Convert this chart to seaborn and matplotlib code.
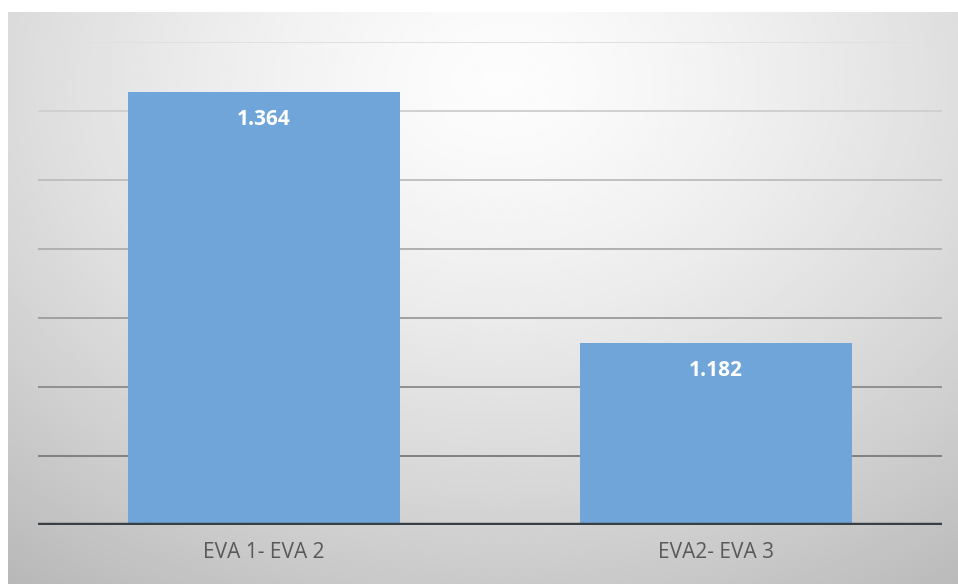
import numpy as np
import pandas as pd
import matplotlib
matplotlib.use("Agg")
import matplotlib.pyplot as plt
import seaborn as sns

categories = ["EVA 1- EVA 2", "EVA2- EVA 3"]
values = [1.364, 1.182]
labels = ["1.364", "1.182"]
y_min, y_max, y_step = 1.05, 1.40, 0.05

df = pd.DataFrame({"pair": categories, "value": values})

sns.set_theme(style="white")
plt.rcParams["font.family"] = ["Open Sans", "DejaVu Sans"]

fig = plt.figure(figsize=(9.58, 5.84), dpi=100)
fig.patch.set_facecolor("white")

# radial gradient panel behind the chart
bg = fig.add_axes([8 / 958, 0, 950 / 958, 572 / 584])
yy, xx = np.mgrid[0:1:300j, 0:1:500j]
r = np.sqrt(((xx - 0.52) / 0.75) ** 2 + ((yy - 0.12) / 0.95) ** 2)
shade = 0.99 - 0.22 * np.clip(r, 0, 1.2) ** 1.4
bg.imshow(shade, cmap="gray", vmin=0, vmax=1, aspect="auto", extent=[0, 1, 1, 0])
bg.axis("off")

ax = fig.add_axes([38 / 958, (584 - 525) / 584, 904 / 958, (525 - 42) / 584])
ax.patch.set_alpha(0)
sns.barplot(data=df, x="pair", y="value", color="#6fa5d8", saturation=1,
            width=0.6, linewidth=0, ax=ax, zorder=3)
ax.set_ylim(y_min, y_max)
ax.set_xlim(-0.5, 1.5)

ticks = np.arange(y_min + y_step, y_max + y_step / 2, y_step)
for i, t in enumerate(ticks):
    g = 0.50 + 0.38 * (i / (len(ticks) - 1))
    ax.axhline(t, color=(g, g, g), lw=1.4, zorder=1)
ax.axhline(y_min, color="#3a3f44", lw=3.2, zorder=4)

for p, lab in zip(ax.patches, labels):
    ax.annotate(lab, (p.get_x() + p.get_width() / 2, p.get_height()),
                xytext=(0, -20), textcoords="offset points", ha="center", va="center",
                color="white", fontsize=15, fontweight="bold", zorder=5)

ax.set_yticks([])
ax.set_xlabel("")
ax.set_ylabel("")
ax.tick_params(axis="x", length=0, pad=12, labelsize=15, labelcolor="#595959")
for s in ax.spines.values():
    s.set_visible(False)

fig.savefig("out.png", dpi=100)
